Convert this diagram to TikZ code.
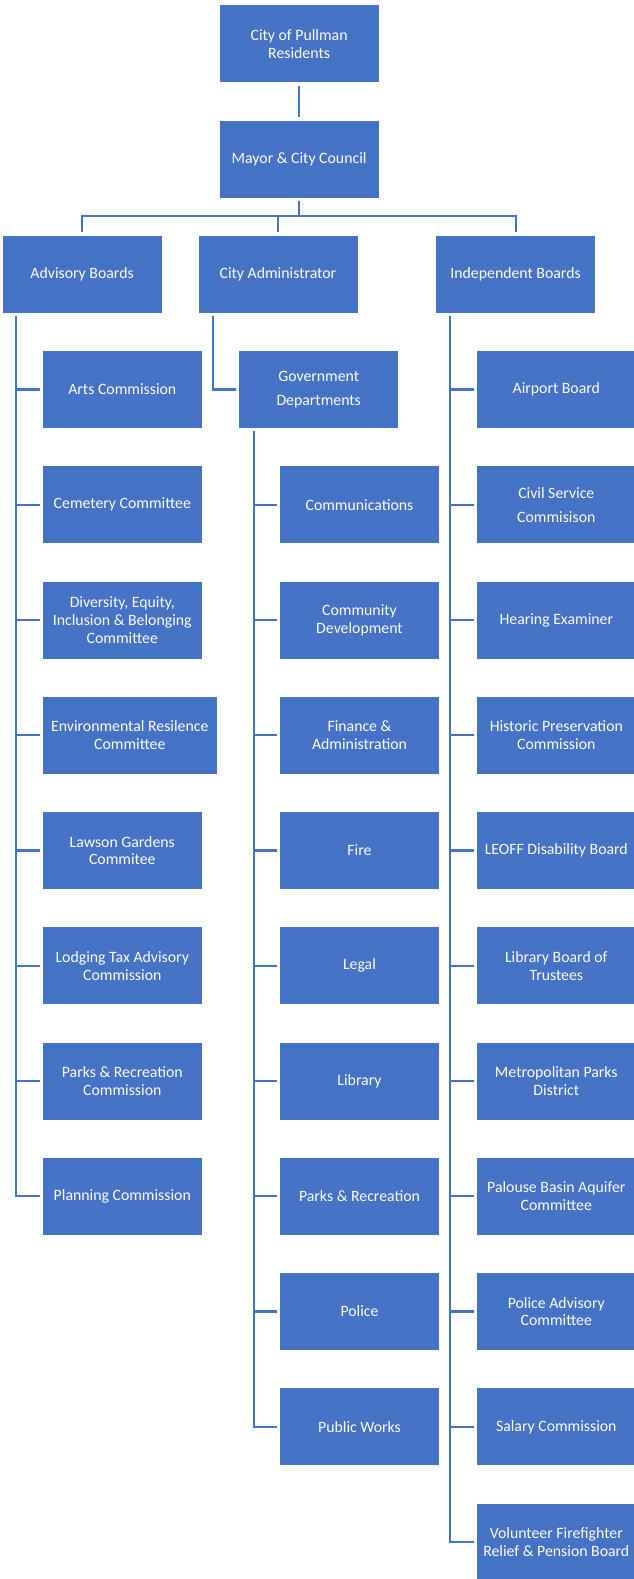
\documentclass[tikz,border=0pt]{standalone}
\usepackage{fontspec}
\setmainfont{Carlito}
\usetikzlibrary{calc}
\definecolor{boxblue}{HTML}{4472C4}
\definecolor{lineblue}{HTML}{4472C4}
\begin{document}
\begin{tikzpicture}[x=1pt,y=-1pt,
  box/.style={rectangle, fill=boxblue, draw=white, line width=0.8pt,
    minimum width=160pt, minimum height=78pt, inner sep=2pt,
    text=white, align=center, font=\fontsize{15.8}{17.8}\selectfont},
  widebox/.style={box, minimum width=175pt},
  conn/.style={draw=lineblue, line width=2.2pt}]
\useasboundingbox (0,0) rectangle (634,1579);

% top levels
\node[box] (res)   at (299.1,43.8)  {City of Pullman\\Residents};
\node[box] (mayor) at (299.1,159.05) {Mayor \& City Council};
\node[box] (adv)   at (82.1,274.3)  {Advisory Boards};
\node[box] (cadm)  at (277.9,274.3) {City Administrator};
\node[box] (ind)   at (515.6,274.3) {Independent Boards};

% advisory boards
\node[box] (arts) at (122.3,389.55) {Arts Commission};
\node[box] (cem)  at (122.3,504.8)  {Cemetery Committee};
\node[box] (dei)  at (122.3,620.05) {Diversity, Equity,\\Inclusion \& Belonging\\Committee};
\node[widebox] (env) at (129.8,735.3) {Environmental Resilence\\Committee};
\node[box] (law)  at (122.3,850.55) {Lawson Gardens\\Commitee};
\node[box] (lod)  at (122.3,965.8)  {Lodging Tax Advisory\\Commission};
\node[box] (prc)  at (122.3,1081.05) {Parks \& Recreation\\Commission};
\node[box] (plan) at (122.3,1196.3) {Planning Commission};

% government departments
\node[box] (gov)  at (318.7,389.55) {Government\\[6.5pt]Departments};
\node[box] (comm) at (359.5,504.8)  {Communications};
\node[box] (cdev) at (359.5,620.05) {Community\\Development};
\node[box] (fin)  at (359.5,735.3)  {Finance \&\\Administration};
\node[box] (fire) at (359.5,850.55) {Fire};
\node[box] (leg)  at (359.5,965.8)  {Legal};
\node[box] (lib)  at (359.5,1081.05) {Library};
\node[box] (pr)   at (359.5,1196.3) {Parks \& Recreation};
\node[box] (pol)  at (359.5,1311.55) {Police};
\node[box] (pw)   at (359.5,1426.8) {Public Works};

% independent boards
\node[box] (air)  at (556.3,389.55) {Airport Board};
\node[box] (civ)  at (556.3,504.8)  {Civil Service\\[6.5pt]Commisison};
\node[box] (hear) at (556.3,620.05) {Hearing Examiner};
\node[box] (hist) at (556.3,735.3)  {Historic Preservation\\Commission};
\node[box] (leo)  at (556.3,850.55) {LEOFF Disability Board};
\node[box] (lbt)  at (556.3,965.8)  {Library Board of\\Trustees};
\node[box] (mpd)  at (556.3,1081.05) {Metropolitan Parks\\District};
\node[box] (pba)  at (556.3,1196.3) {Palouse Basin Aquifer\\Committee};
\node[box] (pac)  at (556.3,1311.55) {Police Advisory\\Committee};
\node[box] (sal)  at (556.3,1426.8) {Salary Commission};
\node[box] (vol)  at (556.3,1542.05) {Volunteer Firefighter\\Relief \& Pension Board};

% connectors: top
\coordinate (bus) at (299.1,216);
\draw[conn] ($(res.south)+(0,2.5)$) -- ($(mayor.north)+(0,-2.5)$);
\draw[conn] ($(mayor.south)+(0,2.5)$) -- (mayor.south |- bus);
\draw[conn] ($(adv.north)+(0,-2.5)$) |- (ind.north |- bus) -- ($(ind.north)+(0,-2.5)$);
\draw[conn] ($(cadm.north)+(0,-2.5)$) -- (cadm.north |- bus);

% advisory spine
\coordinate (advtop) at (16,315.5);
\draw[conn] (advtop) |- ($(plan.west)+(-2,0)$);
\foreach \n in {arts,cem,dei,env,law,lod,prc}
  \draw[conn] (advtop |- \n.west) -- ($(\n.west)+(-2,0)$);

% city administrator to government departments
\coordinate (cadmtop) at (212.7,315.5);
\draw[conn] (cadmtop) |- ($(gov.west)+(-2,0)$);

% government spine
\coordinate (govtop) at (254,431);
\draw[conn] (govtop) |- ($(pw.west)+(-2,0)$);
\foreach \n in {comm,cdev,fin,fire,leg,lib,pr,pol}
  \draw[conn] (govtop |- \n.west) -- ($(\n.west)+(-2,0)$);

% independent spine
\coordinate (indtop) at (450,315.5);
\draw[conn] (indtop) |- ($(vol.west)+(-2,0)$);
\foreach \n in {air,civ,hear,hist,leo,lbt,mpd,pba,pac,sal}
  \draw[conn] (indtop |- \n.west) -- ($(\n.west)+(-2,0)$);
\end{tikzpicture}
\end{document}
